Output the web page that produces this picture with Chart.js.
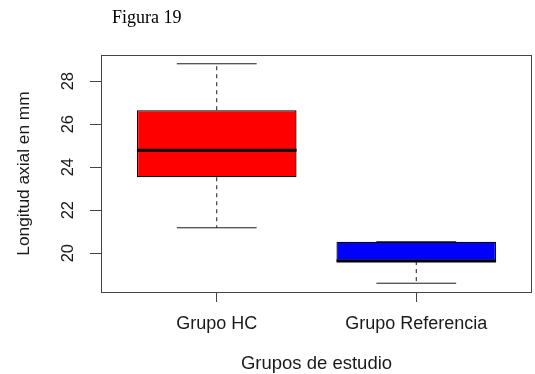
<!DOCTYPE html>
<html>
<head>
<meta charset="utf-8">
<script src="https://cdn.jsdelivr.net/npm/chart.js@4"></script>
<style>
  html, body { margin: 0; padding: 0; background: #fff; }
  #wrap { position: relative; width: 535px; height: 374px; }
</style>
</head>
<body>
<div id="wrap"><canvas id="c" width="535" height="374"></canvas></div>
<script>
// Longitud axial por grupo de estudio (resumen de cinco números)
const grupos  = ['Grupo HC', 'Grupo Referencia'];
const minimo  = [21.18, 18.60];
const q1      = [23.53, 19.63];
const mediana = [24.79, 19.63];
const q3      = [26.65, 20.53];
const maximo  = [28.81, 20.53];
const colores = ['#ff0000', '#0000ff'];

const yTicks = [20, 22, 24, 26, 28];
const yTickLabels = ['20', '22', '24', '26', '28'];

const SANS = '"Liberation Sans", Arial, Helvetica, sans-serif';
const SERIF = '"Liberation Serif", "Times New Roman", serif';
const INK = '#1a1a1a';

// axis range: data span plus 4% on each side
const yLo = Math.min(...minimo), yHi = Math.max(...maximo);
const yPad = (yHi - yLo) * 0.04;
const xPad = grupos.length * 0.04;

const datasets = [];

// cajas (Q1 a Q3)
datasets.push({
  type: 'bar',
  data: grupos.map((g, i) => ({ x: i + 1, y: [q1[i], q3[i]] })),
  backgroundColor: colores,
  borderColor: '#000',
  borderWidth: 1.3,
  borderSkipped: false,
  barPercentage: 1,
  categoryPercentage: 0.8,
  order: 1
});

const lineBase = { type: 'line', pointRadius: 0, pointHoverRadius: 0, fill: false, tension: 0, borderCapStyle: 'butt' };

grupos.forEach((g, i) => {
  const x = i + 1;
  // bigotes discontinuos
  datasets.push(Object.assign({}, lineBase, {
    data: [{ x: x, y: q3[i] }, { x: x, y: maximo[i] }],
    borderColor: INK, borderWidth: 1, borderDash: [4, 4], order: 2
  }));
  datasets.push(Object.assign({}, lineBase, {
    data: [{ x: x, y: q1[i] }, { x: x, y: minimo[i] }],
    borderColor: INK, borderWidth: 1, borderDash: [4, 4], order: 2
  }));
  // extremos de los bigotes
  datasets.push(Object.assign({}, lineBase, {
    data: [{ x: x - 0.2, y: maximo[i] }, { x: x + 0.2, y: maximo[i] }],
    borderColor: INK, borderWidth: 1, order: 2
  }));
  datasets.push(Object.assign({}, lineBase, {
    data: [{ x: x - 0.2, y: minimo[i] }, { x: x + 0.2, y: minimo[i] }],
    borderColor: INK, borderWidth: 1, order: 2
  }));
  // mediana
  datasets.push(Object.assign({}, lineBase, {
    data: [{ x: x - 0.4, y: mediana[i] }, { x: x + 0.4, y: mediana[i] }],
    borderColor: '#000', borderWidth: 3, order: 0
  }));
});

// marco del gráfico, etiquetas verticales del eje Y y rótulo de la figura
const decor = {
  id: 'decor',
  afterDraw(chart) {
    const ctx = chart.ctx;
    const a = chart.chartArea;
    const ys = chart.scales.y;
    ctx.save();
    ctx.strokeStyle = '#444';
    ctx.lineWidth = 1;
    ctx.strokeRect(Math.round(a.left) + 0.5, Math.round(a.top) + 0.5,
                   Math.round(a.right - a.left) - 1, Math.round(a.bottom - a.top));
    ctx.fillStyle = INK;
    ctx.font = '16.5px ' + SANS;
    ctx.textAlign = 'center';
    ctx.textBaseline = 'middle';
    yTicks.forEach((v, k) => {
      const py = ys.getPixelForValue(v);
      ctx.save();
      ctx.translate(68, py);
      ctx.rotate(-Math.PI / 2);
      ctx.fillText(yTickLabels[k], 0, 0);
      ctx.restore();
    });
    ctx.fillStyle = '#000';
    ctx.font = '18px ' + SERIF;
    ctx.textAlign = 'left';
    ctx.textBaseline = 'alphabetic';
    ctx.fillText('Figura 19', 112, 23);
    ctx.restore();
  }
};

new Chart(document.getElementById('c'), {
  type: 'bar',
  data: { datasets },
  plugins: [decor],
  options: {
    responsive: false,
    animation: false,
    events: [],
    layout: { padding: { top: 55, right: 3, left: 0, bottom: 0 } },
    plugins: { legend: { display: false }, tooltip: { enabled: false }, title: { display: false } },
    scales: {
      x: {
        type: 'linear',
        offset: false,
        min: 1 - 0.5 - xPad,
        max: grupos.length + 0.5 + xPad,
        afterBuildTicks(s) { s.ticks = grupos.map((g, i) => ({ value: i + 1 })); },
        afterFit(s) { s.height = 82; },
        ticks: {
          autoSkip: false,
          maxRotation: 0,
          padding: 11,
          color: INK,
          font: { family: SANS, size: 18 },
          callback: (v, i) => grupos[i]
        },
        grid: { offset: false, drawOnChartArea: false, drawTicks: true, tickLength: 10, color: '#444' },
        border: { display: false },
        title: {
          display: true,
          text: 'Grupos de estudio',
          color: INK,
          font: { family: SANS, size: 18.5, lineHeight: 1 },
          padding: { top: 0, bottom: 0.5 }
        }
      },
      y: {
        type: 'linear',
        min: yLo - yPad,
        max: yHi + yPad,
        afterBuildTicks(s) { s.ticks = yTicks.map(v => ({ value: v })); },
        afterFit(s) { s.width = 101; },
        ticks: { display: false },
        grid: { drawOnChartArea: false, drawTicks: true, tickLength: 11, color: '#444' },
        border: { display: false },
        title: {
          display: true,
          text: 'Longitud axial en mm',
          color: INK,
          font: { family: SANS, size: 17.3 },
          padding: { top: 14, bottom: 0 }
        }
      }
    }
  }
});
</script>
</body>
</html>
